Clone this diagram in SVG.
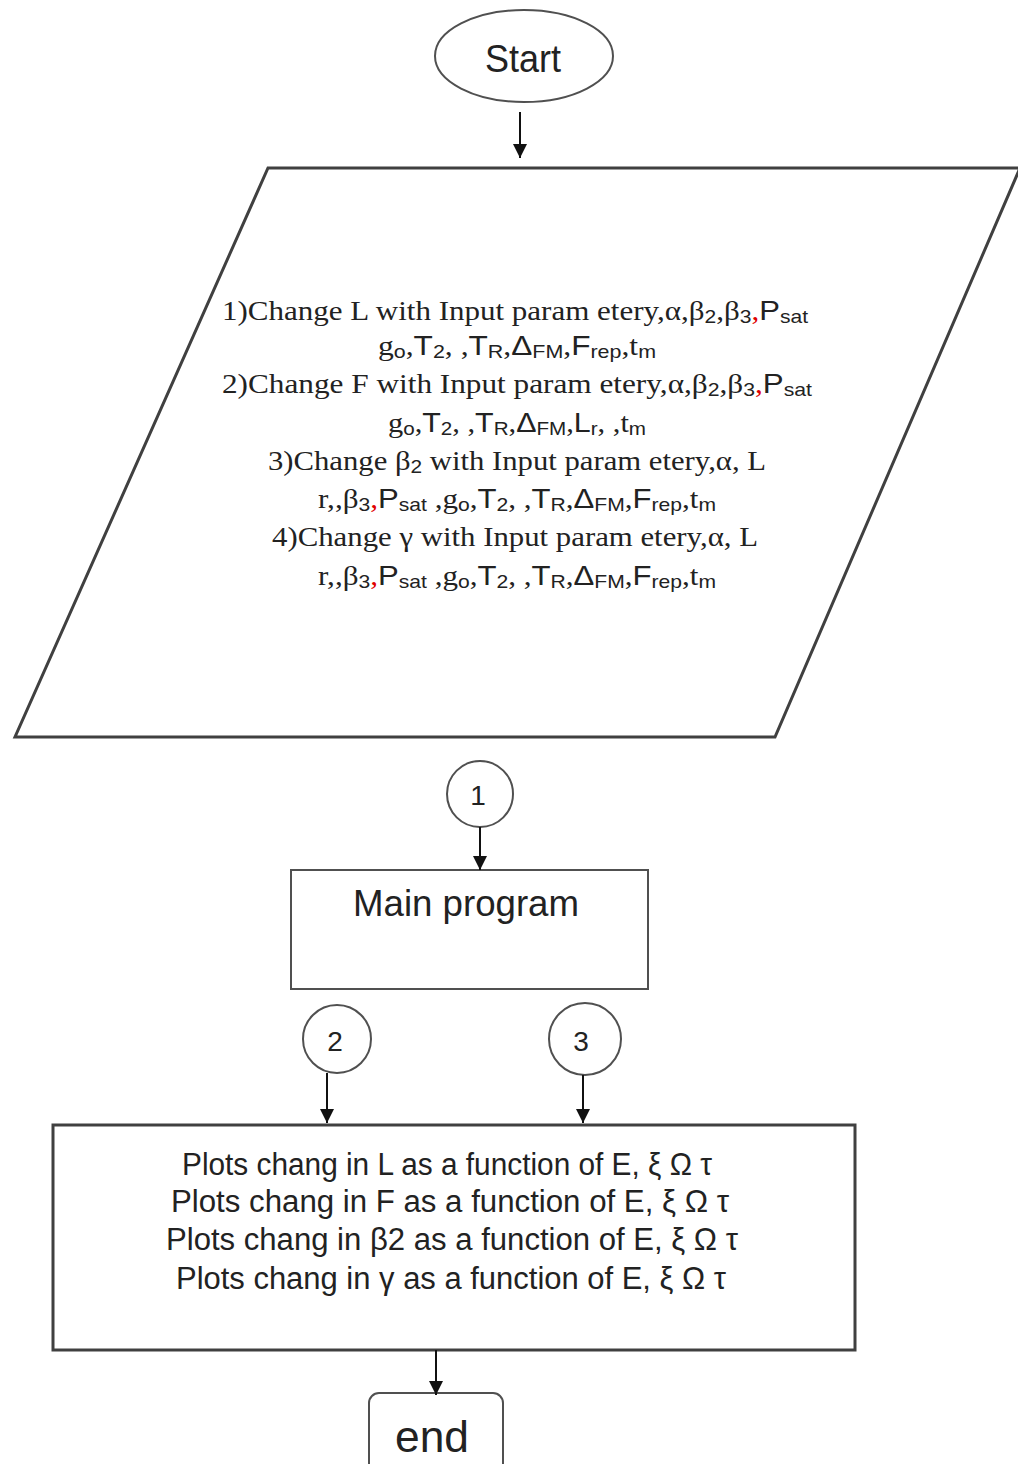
<svg xmlns="http://www.w3.org/2000/svg" width="1018" height="1464" viewBox="0 0 1018 1464">
<style>
.shape{fill:#fff;stroke:#404040;stroke-width:3}
.thin{fill:#fff;stroke:#505050;stroke-width:2}
.conn{stroke:#111;stroke-width:2;fill:none}
.sans{font-family:"Liberation Sans",Arial,sans-serif;fill:#222}
.serif{font-family:"Liberation Serif","Times New Roman",serif;fill:#222;font-size:28px}
.sb{font-family:"Liberation Sans",Arial,sans-serif;font-size:19px}
.red{fill:#e00000}
.pre{white-space:pre}
</style>
<defs>
<marker id="arr" viewBox="0 0 10 10" refX="10" refY="5" markerWidth="14" markerHeight="14" markerUnits="userSpaceOnUse" orient="auto">
<path d="M0,0 L10,5 L0,10 z" fill="#111"/>
</marker>
</defs>

<g id="start">
<ellipse class="thin" cx="524" cy="56" rx="89" ry="46"/>
<text class="sans" x="523" y="72" font-size="38" text-anchor="middle" textLength="76" lengthAdjust="spacingAndGlyphs">Start</text>
</g>

<g id="input">
<polygon class="shape" points="268,168 1020,168 775,737 15,737"/>
<g class="serif" text-anchor="middle">
<text x="515" y="320" textLength="586" lengthAdjust="spacingAndGlyphs">1)Change L with Input param etery,α,β<tspan class="sb" baseline-shift="-3">2</tspan>,β<tspan class="sb" baseline-shift="-3">3</tspan><tspan class="red">,</tspan><tspan class="sans">P</tspan><tspan class="sb" baseline-shift="-3">sat</tspan></text>
<text x="517" y="355" textLength="278" lengthAdjust="spacingAndGlyphs">g<tspan class="sb" baseline-shift="-3">o</tspan>,<tspan class="sans">T</tspan><tspan class="sb" baseline-shift="-3">2</tspan>, ,<tspan class="sans">T</tspan><tspan class="sb" baseline-shift="-3">R</tspan>,<tspan class="sans">Δ</tspan><tspan class="sb" baseline-shift="-3">FM</tspan>,<tspan class="sans">F</tspan><tspan class="sb" baseline-shift="-3">rep</tspan>,t<tspan class="sb" baseline-shift="-3">m</tspan></text>
<text x="517" y="393" textLength="590" lengthAdjust="spacingAndGlyphs">2)Change F with Input param etery,α,β<tspan class="sb" baseline-shift="-3">2</tspan>,β<tspan class="sb" baseline-shift="-3">3</tspan><tspan class="red">,</tspan><tspan class="sans">P</tspan><tspan class="sb" baseline-shift="-3">sat</tspan></text>
<text x="517" y="432" textLength="258" lengthAdjust="spacingAndGlyphs">g<tspan class="sb" baseline-shift="-3">o</tspan>,<tspan class="sans">T</tspan><tspan class="sb" baseline-shift="-3">2</tspan>, ,<tspan class="sans">T</tspan><tspan class="sb" baseline-shift="-3">R</tspan>,<tspan class="sans">Δ</tspan><tspan class="sb" baseline-shift="-3">FM</tspan>,<tspan class="sans">L</tspan><tspan class="sb" baseline-shift="-3">r</tspan>, ,t<tspan class="sb" baseline-shift="-3">m</tspan></text>
<text x="517" y="470" textLength="498" lengthAdjust="spacingAndGlyphs">3)Change β<tspan class="sb" baseline-shift="-3">2</tspan> with Input param etery,α, L</text>
<text x="517" y="508" textLength="398" lengthAdjust="spacingAndGlyphs">r,,β<tspan class="sb" baseline-shift="-3">3</tspan><tspan class="red">,</tspan><tspan class="sans">P</tspan><tspan class="sb" baseline-shift="-3">sat</tspan> ,g<tspan class="sb" baseline-shift="-3">o</tspan>,<tspan class="sans">T</tspan><tspan class="sb" baseline-shift="-3">2</tspan>, ,<tspan class="sans">T</tspan><tspan class="sb" baseline-shift="-3">R</tspan>,<tspan class="sans">Δ</tspan><tspan class="sb" baseline-shift="-3">FM</tspan>,<tspan class="sans">F</tspan><tspan class="sb" baseline-shift="-3">rep</tspan>,t<tspan class="sb" baseline-shift="-3">m</tspan></text>
<text x="515" y="546" textLength="486" lengthAdjust="spacingAndGlyphs">4)Change γ with Input param etery,α, L</text>
<text x="517" y="585" textLength="398" lengthAdjust="spacingAndGlyphs">r,,β<tspan class="sb" baseline-shift="-3">3</tspan><tspan class="red">,</tspan><tspan class="sans">P</tspan><tspan class="sb" baseline-shift="-3">sat</tspan> ,g<tspan class="sb" baseline-shift="-3">o</tspan>,<tspan class="sans">T</tspan><tspan class="sb" baseline-shift="-3">2</tspan>, ,<tspan class="sans">T</tspan><tspan class="sb" baseline-shift="-3">R</tspan>,<tspan class="sans">Δ</tspan><tspan class="sb" baseline-shift="-3">FM</tspan>,<tspan class="sans">F</tspan><tspan class="sb" baseline-shift="-3">rep</tspan>,t<tspan class="sb" baseline-shift="-3">m</tspan></text>
</g>
</g>

<g id="c1">
<circle class="thin" cx="480" cy="794" r="33"/>
<text class="sans" x="478" y="805" font-size="28" text-anchor="middle">1</text>
</g>

<g id="main">
<rect class="thin" x="291" y="870" width="357" height="119"/>
<text class="sans" x="466" y="916" font-size="37" text-anchor="middle" textLength="226" lengthAdjust="spacingAndGlyphs">Main program</text>
</g>

<g id="c2">
<circle class="thin" cx="337" cy="1039" r="34"/>
<text class="sans" x="335" y="1051" font-size="28" text-anchor="middle">2</text>
</g>

<g id="c3">
<circle class="thin" cx="585" cy="1039" r="36"/>
<text class="sans" x="581" y="1051" font-size="28" text-anchor="middle">3</text>
</g>

<g id="plots">
<rect class="shape" x="53" y="1125" width="802" height="225"/>
<g class="sans pre" font-size="31" text-anchor="middle">
<text x="447" y="1175" textLength="530" lengthAdjust="spacingAndGlyphs">Plots chang in L as a function of E, ξ Ω τ</text>
<text x="450" y="1212" textLength="558" lengthAdjust="spacingAndGlyphs">Plots chang in F  as a function of E, ξ Ω τ</text>
<text x="452" y="1250" textLength="572" lengthAdjust="spacingAndGlyphs">Plots chang in β2  as a function of E, ξ Ω τ</text>
<text x="451" y="1289" textLength="550" lengthAdjust="spacingAndGlyphs">Plots chang in γ  as a function of E, ξ Ω τ</text>
</g>
</g>

<g id="end">
<rect class="thin" x="369" y="1393" width="134" height="90" rx="10"/>
<text class="sans" x="432" y="1452" font-size="44" text-anchor="middle" textLength="74" lengthAdjust="spacingAndGlyphs">end</text>
</g>

<g id="connectors">
<line class="conn" x1="520" y1="112" x2="520" y2="158" marker-end="url(#arr)"/>
<line class="conn" x1="480" y1="827" x2="480" y2="870" marker-end="url(#arr)"/>
<line class="conn" x1="327" y1="1073" x2="327" y2="1123" marker-end="url(#arr)"/>
<line class="conn" x1="583" y1="1075" x2="583" y2="1123" marker-end="url(#arr)"/>
<line class="conn" x1="436" y1="1350" x2="436" y2="1395" marker-end="url(#arr)"/>
</g>
</svg>
